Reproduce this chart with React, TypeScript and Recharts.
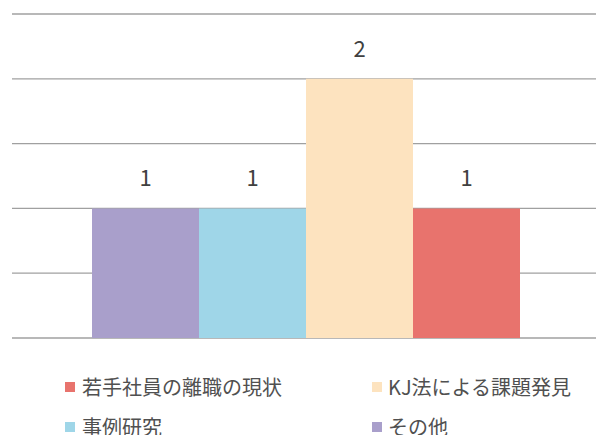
import { Bar, BarChart, CartesianGrid, LabelList, XAxis, YAxis } from "recharts";

const seriesNames = ["その他", "事例研究", "KJ法による課題発見", "若手社員の離職の現状"];
const seriesValues = [1, 1, 2, 1];
const seriesColors = ["#a99fcb", "#9fd6e8", "#fde3bf", "#e8736d"];
const yTicks = [0, 0.5, 1, 1.5, 2, 2.5];

const row: Record<string, string | number> = { name: "" };
seriesNames.forEach((_, i) => {
  row[`s${i}`] = seriesValues[i];
});
const data = [row];

// legend reads red, cream / blue, purple (reverse of series order)
const legendOrder = [3, 2, 1, 0];
const font = '"Noto Sans CJK JP", "Noto Sans", sans-serif';

export default function App() {
  return (
    <div style={{ position: "absolute", left: 0, top: 0, width: 596, height: 435, background: "#fff", overflow: "hidden" }}>
      <BarChart
        width={596}
        height={435}
        data={data}
        margin={{ top: 14, right: -3, left: 12, bottom: 97 }}
        barGap={0}
        barCategoryGap={80}
      >
        <CartesianGrid vertical={false} stroke="#a0a0a0" strokeWidth={1.3} />
        <XAxis dataKey="name" hide />
        <YAxis hide domain={[0, 2.5]} ticks={yTicks} />
        {seriesNames.map((n, i) => (
          <Bar key={n} dataKey={`s${i}`} name={n} fill={seriesColors[i]} isAnimationActive={false}>
            <LabelList
              dataKey={`s${i}`}
              position="top"
              offset={22}
              fill="#404040"
              style={{ fontSize: 22, fontFamily: font }}
            />
          </Bar>
        ))}
      </BarChart>
      {legendOrder.map((si, k) => {
        const col = k % 2;
        const r = Math.floor(k / 2);
        return (
          <div
            key={si}
            style={{
              position: "absolute",
              left: col === 0 ? 65 : 372,
              top: r === 0 ? 376 : 416,
              display: "flex",
              alignItems: "center",
              fontFamily: font,
              fontSize: 20,
              lineHeight: "22px",
              color: "#505050",
              whiteSpace: "nowrap",
            }}
          >
            <span
              style={{ display: "inline-block", width: 10, height: 10, background: seriesColors[si], marginRight: col === 0 ? 7 : 6 }}
            />
            {seriesNames[si]}
          </div>
        );
      })}
    </div>
  );
}
